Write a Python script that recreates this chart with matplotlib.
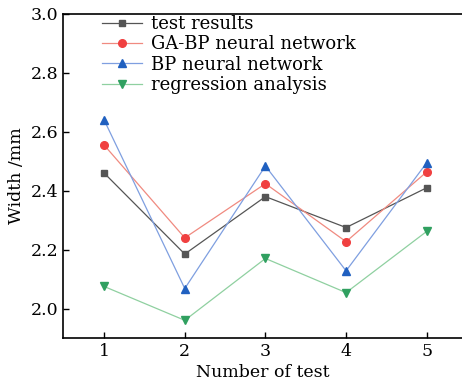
import matplotlib
matplotlib.use("Agg")
import matplotlib.pyplot as plt

tests = [1, 2, 3, 4, 5]
test_results = [2.46, 2.185, 2.38, 2.275, 2.41]
ga_bp = [2.555, 2.24, 2.424, 2.227, 2.464]
bp = [2.64, 2.068, 2.484, 2.128, 2.495]
regression = [2.075, 1.96, 2.17, 2.054, 2.262]

plt.rcParams['font.family'] = ['DejaVu Serif']
fig = plt.figure(figsize=(4.62, 3.90), dpi=100)
ax = fig.add_axes([63/462, 1-338/390, 400/462, 324/390])

ax.plot(tests, test_results, color='#555555', lw=0.9, marker='s', ms=5, mfc='#555555', mec='#555555', label='test results')
ax.plot(tests, ga_bp, color='#f08a80', lw=0.9, marker='o', ms=5.5, mfc='#f04040', mec='#f04040', label='GA-BP neural network')
ax.plot(tests, bp, color='#7f9fe0', lw=0.9, marker='^', ms=6, mfc='#2060c0', mec='#2060c0', label='BP neural network')
ax.plot(tests, regression, color='#8fd0a0', lw=0.9, marker='v', ms=6, mfc='#30a060', mec='#30a060', label='regression analysis')

ax.set_xlim(0.49, 5.45)
ax.set_ylim(1.90, 3.0)
ax.set_xticks(tests)
ax.set_yticks([2.0, 2.2, 2.4, 2.6, 2.8, 3.0])
ax.set_yticklabels(['2.0', '2.2', '2.4', '2.6', '2.8', '3.0'])
ax.tick_params(direction='in', labelsize=12.5, length=4, width=1)
for s in ax.spines.values():
    s.set_linewidth(1.2)
ax.set_xlabel('Number of test', fontsize=12.5, labelpad=3)
ax.set_ylabel('Width /mm', fontsize=12.5, labelpad=4)
leg = ax.legend(loc='upper left', bbox_to_anchor=(0.07, 1.03), frameon=False, fontsize=13,
                handlelength=2.2, labelspacing=0.13, handletextpad=0.5, borderaxespad=0.2)
fig.savefig('out.png', dpi=100)
